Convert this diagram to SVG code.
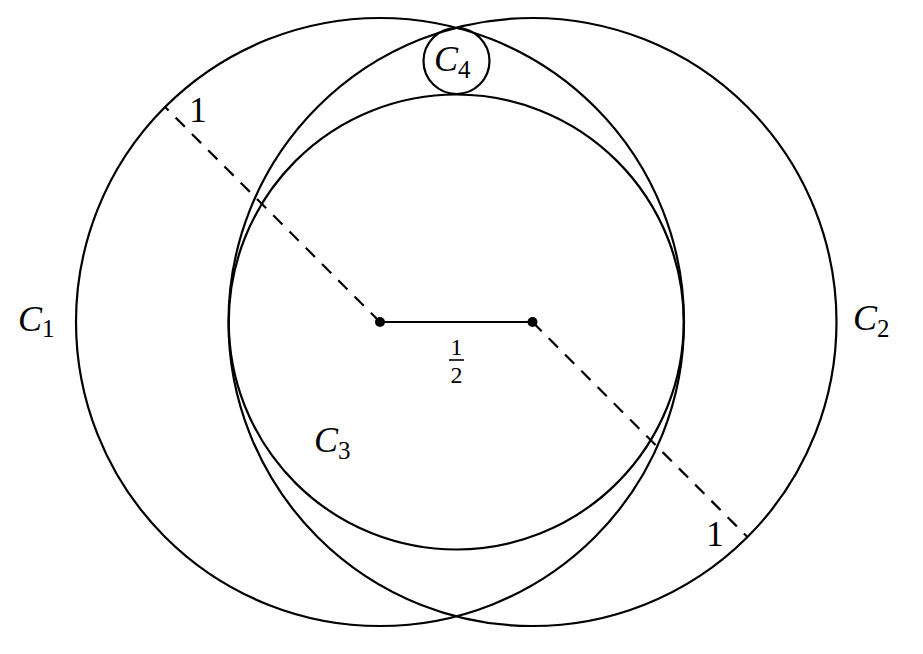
<svg xmlns="http://www.w3.org/2000/svg" width="923" height="654" viewBox="0 0 923 654">
<style>
.c{fill:none;stroke:#000;stroke-width:2.2}
.d{fill:none;stroke:#000;stroke-width:2.2;stroke-dasharray:13 10}
.t{font-family:"Liberation Serif","DejaVu Serif",serif;fill:#000}
.i{font-style:italic}
</style>
<rect width="923" height="654" fill="#fff"/>
<g id="C1"><circle class="c" cx="380" cy="322" r="304"/></g>
<g id="C2"><circle class="c" cx="532.5" cy="322" r="304"/></g>
<g id="C3"><circle class="c" cx="456.25" cy="322" r="227.5"/></g>
<g id="C4"><circle class="c" cx="456.5" cy="61" r="33"/></g>
<g id="connectors">
<line class="d" x1="380" y1="322" x2="165" y2="107"/>
<line class="d" x1="532.5" y1="322" x2="747.5" y2="537"/>
<line class="c" x1="380" y1="322" x2="532.5" y2="322"/>
<circle cx="380" cy="322" r="5" fill="#000"/>
<circle cx="532.5" cy="322" r="5" fill="#000"/>
<line x1="449" y1="360" x2="464" y2="360" stroke="#000" stroke-width="1.6"/>
</g>
<g id="labels">
<text class="t" x="18" y="331" font-size="36"><tspan class="i">C</tspan><tspan font-size="25" dy="6">1</tspan></text>
<text class="t" x="853" y="330" font-size="36"><tspan class="i">C</tspan><tspan font-size="25" dy="7">2</tspan></text>
<text class="t" x="314" y="452" font-size="36"><tspan class="i">C</tspan><tspan font-size="25" dy="7">3</tspan></text>
<text class="t" x="434" y="71" font-size="36"><tspan class="i">C</tspan><tspan font-size="25" dy="7">4</tspan></text>
<text class="t" x="198" y="122" font-size="35" text-anchor="middle">1</text>
<text class="t" x="715" y="546" font-size="35" text-anchor="middle">1</text>
<text class="t" x="456.5" y="355" font-size="24" text-anchor="middle">1</text>
<text class="t" x="456.5" y="383" font-size="24" text-anchor="middle">2</text>
</g>
</svg>
